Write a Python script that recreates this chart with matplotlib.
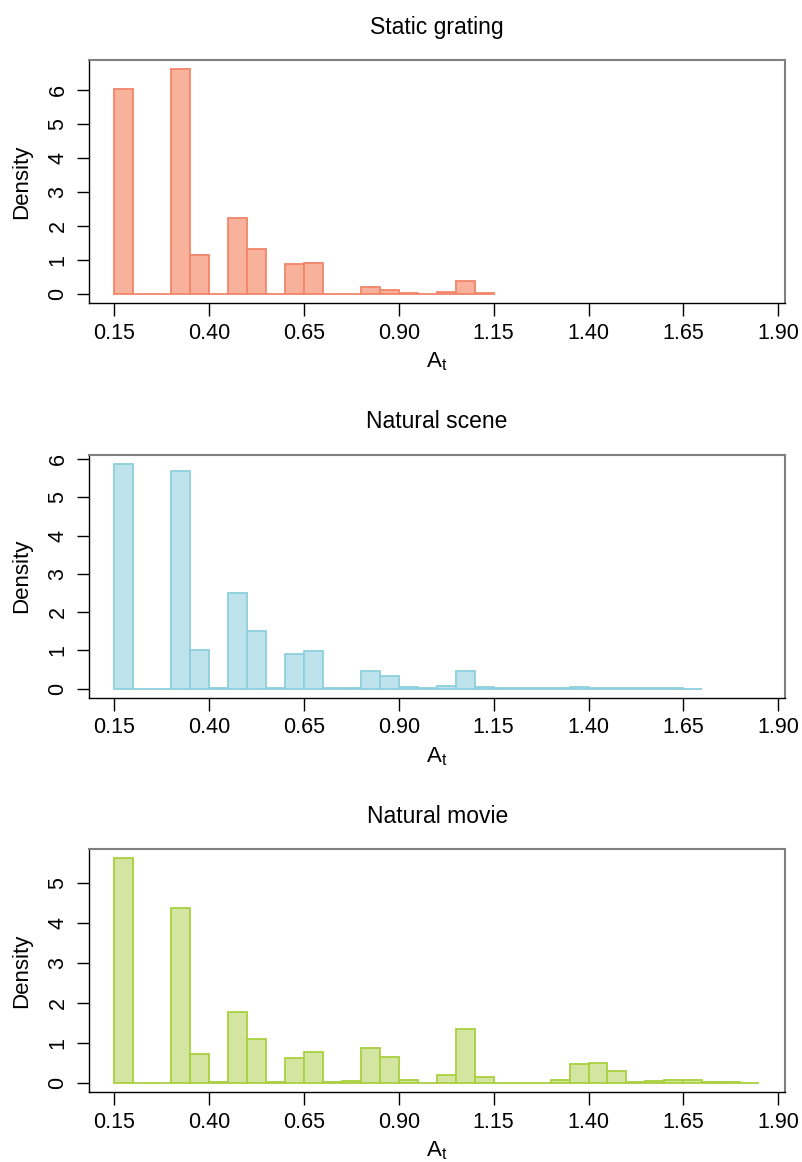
import numpy as np
import matplotlib
matplotlib.use("Agg")
import matplotlib.pyplot as plt

plt.rcParams['font.family'] = ['Liberation Sans', 'DejaVu Sans']

bin_start = 0.15
bin_width = 0.05

titles = ["Static grating", "Natural scene", "Natural movie"]

static_grating = [6.02, 0, 0, 6.61, 1.15, 0.02, 2.25, 1.34, 0.02, 0.90, 0.92,
                  0.02, 0.02, 0.20, 0.13, 0.03, 0.005, 0.07, 0.38, 0.05]
natural_scene = [5.88, 0, 0, 5.70, 1.00, 0.02, 2.49, 1.50, 0.02, 0.90, 0.98,
                 0.03, 0.03, 0.47, 0.32, 0.04, 0.01, 0.07, 0.45, 0.04, 0.01,
                 0.01, 0.02, 0.02, 0.04, 0.03, 0.02, 0.01, 0.01, 0.01, 0.005]
natural_movie = [5.62, 0, 0, 4.37, 0.74, 0.02, 1.77, 1.10, 0.02, 0.64, 0.79,
                 0.03, 0.06, 0.88, 0.66, 0.09, 0.0, 0.21, 1.35, 0.15, 0.01,
                 0.01, 0.01, 0.09, 0.47, 0.50, 0.30, 0.03, 0.06, 0.07, 0.07,
                 0.04, 0.02, 0.01]

x_ticks = [0.15, 0.40, 0.65, 0.90, 1.15, 1.40, 1.65, 1.90]
x_tick_labels = ["0.15", "0.40", "0.65", "0.90", "1.15", "1.40", "1.65", "1.90"]
y_ticks = [[0, 1, 2, 3, 4, 5, 6], [0, 1, 2, 3, 4, 5, 6], [0, 1, 2, 3, 4, 5]]

series = [static_grating, natural_scene, natural_movie]
fills = ["#F8B19B", "#BEE3EC", "#D4E5A2"]
edges = ["#F2856A", "#8DD0DC", "#A8D03F"]

W, H = 802, 1162
fig = plt.figure(figsize=(W / 100, H / 100), dpi=100)

left = 89.3 / W
width = (785 - 89.3) / W
height = 243 / H
bottoms_px = [303.3, 697.7, 1092.3]

FS = 15.5
for i in range(3):
    ax = fig.add_axes([left, 1 - bottoms_px[i] / H, width, height])
    vals = np.array(series[i])
    xs = bin_start + bin_width * np.arange(len(vals))
    ax.bar(xs, vals, width=bin_width, align='edge', color=fills[i],
           edgecolor=edges[i], linewidth=1.3, zorder=2)
    ymax = vals.max()
    ax.set_ylim(-0.04 * ymax, 1.04 * ymax)
    ax.set_xlim(0.084, 1.918)
    ax.set_xticks(x_ticks)
    ax.set_xticklabels(x_tick_labels)
    ax.set_yticks(y_ticks[i])
    ax.set_yticklabels([str(v) for v in y_ticks[i]], rotation=90, va='center')
    ax.tick_params(axis='both', direction='out', length=9, width=1,
                   labelsize=FS, color='black')
    ax.tick_params(axis='x', pad=5)
    ax.tick_params(axis='y', pad=6)
    for s in ['left', 'bottom']:
        ax.spines[s].set_color('black')
        ax.spines[s].set_linewidth(1.0)
    for s in ['top', 'right']:
        ax.spines[s].set_color('#808080')
        ax.spines[s].set_linewidth(1.5)
    ax.set_title(titles[i], fontsize=16.5, pad=19)
    ax.set_xlabel(r'$\mathregular{A_t}$', fontsize=16, labelpad=5)
    ax.set_ylabel('Density', fontsize=16, labelpad=11)

fig.savefig("out.png", dpi=100)
